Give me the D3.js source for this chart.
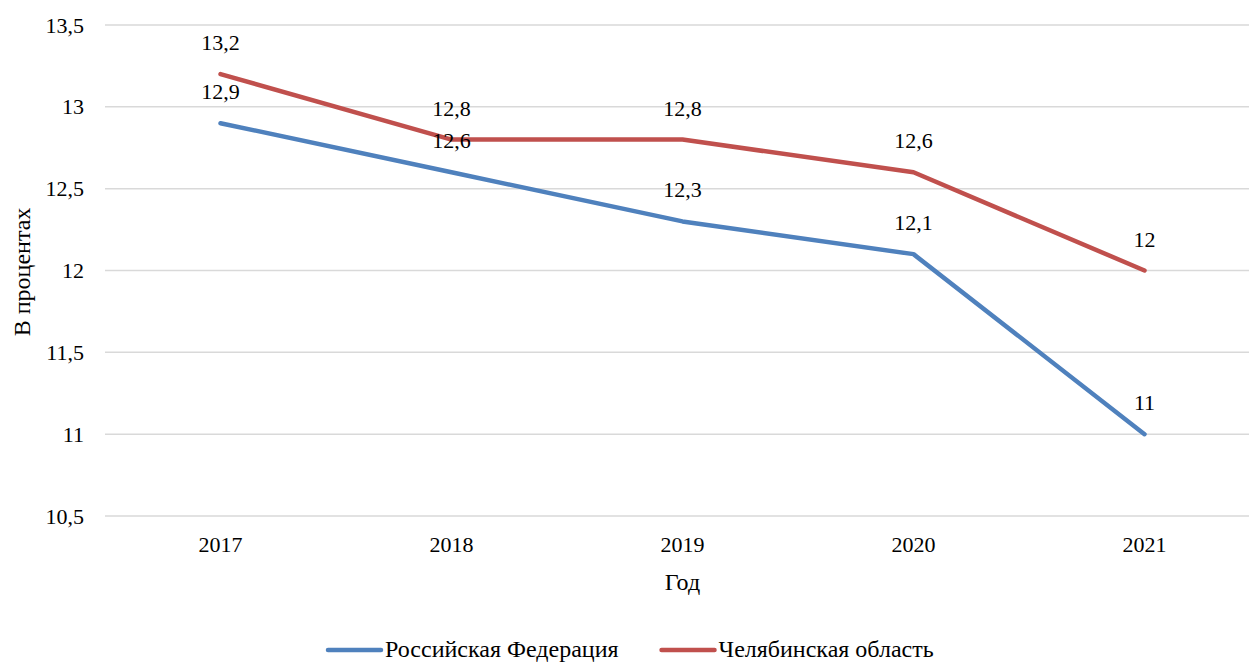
<!DOCTYPE html>
<html>
<head>
<meta charset="utf-8">
<script src="https://cdn.jsdelivr.net/npm/d3@7/dist/d3.min.js"></script>
<style>
  html, body { margin: 0; padding: 0; background: #fff; }
</style>
</head>
<body>
<svg id="chart" width="1249" height="662"></svg>
<script>
// Years on the category axis
const years = ["2017", "2018", "2019", "2020", "2021"];
// Series values, percent
const russia = [12.9, 12.6, 12.3, 12.1, 11.0];
const chelyabinsk = [13.2, 12.8, 12.8, 12.6, 12.0];
const seriesNames = ["Российская Федерация", "Челябинская область"];
// Y-axis tick values
const yTicks = [10.5, 11, 11.5, 12, 12.5, 13, 13.5];

const colors = ["#4F81BD", "#C0504D"];
const fmt = v => String(v).replace(".", ",");
const FONT = "'Liberation Serif', 'Times New Roman', serif";

const svg = d3.select("#chart");
const plot = { left: 105, right: 1260, top: 25, bottom: 516 };

const x = d3.scaleBand().domain(years).range([plot.left, plot.right]);
const y = d3.scaleLinear().domain([10.5, 13.5]).range([plot.bottom, plot.top]);

// Horizontal gridlines
svg.append("g")
  .selectAll("line")
  .data(yTicks)
  .join("line")
  .attr("x1", plot.left).attr("x2", 1249)
  .attr("y1", d => y(d)).attr("y2", d => y(d))
  .attr("stroke", "#D9D9D9").attr("stroke-width", 1.5);

// Y axis labels
const yAxis = svg.append("g")
  .attr("transform", `translate(${plot.left},0)`)
  .call(d3.axisLeft(y).tickValues(yTicks).tickFormat(fmt).tickSize(0).tickPadding(21));
yAxis.select(".domain").remove();
yAxis.selectAll("text").style("font-family", FONT).style("font-size", "22px").attr("fill", "#000");

// X axis labels
const xAxis = svg.append("g")
  .attr("transform", `translate(0,${plot.bottom})`)
  .call(d3.axisBottom(x).tickSize(0).tickPadding(20));
xAxis.select(".domain").remove();
xAxis.selectAll("text").style("font-family", FONT).style("font-size", "22px").attr("fill", "#000");

// Axis titles
svg.append("text")
  .attr("x", x("2019") + x.bandwidth() / 2).attr("y", 590)
  .attr("text-anchor", "middle")
  .style("font-family", FONT).style("font-size", "24px")
  .text("Год");
svg.append("text")
  .attr("transform", "translate(30,272) rotate(-90)")
  .attr("text-anchor", "middle")
  .style("font-family", FONT).style("font-size", "24px")
  .text("В процентах");

// Lines
const cx = d => x(d) + x.bandwidth() / 2;
const line = d3.line().x((d, i) => cx(years[i])).y(d => y(d));
[russia, chelyabinsk].forEach((s, k) => {
  svg.append("path")
    .datum(s)
    .attr("d", line)
    .attr("fill", "none")
    .attr("stroke", colors[k])
    .attr("stroke-width", 4.5)
    .attr("stroke-linejoin", "round")
    .attr("stroke-linecap", "round");
});

// Value labels above each point
[russia, chelyabinsk].forEach(s => {
  svg.append("g")
    .selectAll("text")
    .data(s)
    .join("text")
    .attr("x", (d, i) => cx(years[i]))
    .attr("y", d => y(d) - 24)
    .attr("text-anchor", "middle")
    .style("font-family", FONT).style("font-size", "22px")
    .text(fmt);
});

// Legend: swatch line followed by series name
const legend = svg.append("g");
let lx = 328;
seriesNames.forEach((name, k) => {
  legend.append("line")
    .attr("x1", lx).attr("x2", lx + 53)
    .attr("y1", 650).attr("y2", 650)
    .attr("stroke", colors[k]).attr("stroke-width", 4.5)
    .attr("stroke-linecap", "round");
  const t = legend.append("text")
    .attr("x", lx + 57).attr("y", 657)
    .style("font-family", FONT).style("font-size", "24px")
    .text(name);
  lx += 57 + t.node().getComputedTextLength() + 43;
});
</script>
</body>
</html>
